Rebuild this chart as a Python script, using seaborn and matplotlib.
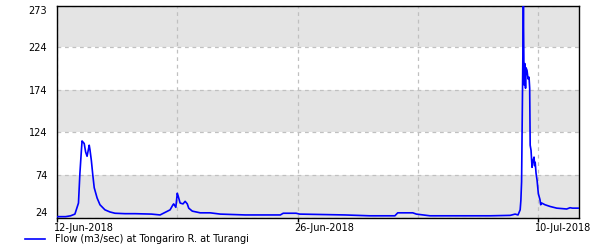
import matplotlib
matplotlib.use("Agg")
import matplotlib.pyplot as plt
import matplotlib.dates as mdates
import matplotlib.transforms as mtransforms
import numpy as np
import pandas as pd
import seaborn as sns

start = "2018-06-12 00:00"
hours = [0, 12, 19, 25, 30, 32, 34, 35, 36, 38, 40, 42, 45, 46, 48, 50, 52, 56, 60, 67,
         74, 81, 95, 109, 132, 144, 158, 162, 163, 166, 168, 169, 172, 176, 179, 182, 184,
         189, 200, 214, 228, 263, 312, 316, 334, 339, 402, 437, 472, 476, 497, 502, 521,
         605, 633, 640, 644, 647, 648, 649, 651.5, 652.5, 653.5, 654.5, 655.2, 656.6, 658.0,
         659.4, 660.3, 661, 662.2, 663.6, 665.0, 666.4, 667.2, 668, 669.2, 670.6, 672.4,
         674.7, 675.7, 677.1, 681.7, 688.7, 698.1, 712.0, 716.7, 720, 729.2]
flow = [25, 25, 26, 28, 41, 76, 102, 114, 113, 111, 101, 96, 109, 104, 91, 74, 59, 47, 39, 33,
        30.5, 29, 28.5, 28.5, 28, 27, 33, 39, 40, 36, 52.5, 50, 41, 40, 43, 40, 35,
        31.5, 29.5, 29.5, 28, 27, 27, 29, 29, 28, 27, 26, 26, 29.5, 29.5, 28, 26,
        26, 26.5, 28, 27, 33, 44, 66, 273, 180, 205, 176, 200, 197, 187,
        189, 176, 109, 103, 83, 91, 95, 85, 89, 76, 68, 52,
        45, 39, 41, 39, 37, 35, 34, 35.5, 35, 35]

y_ticks = [24, 74, 124, 174, 224, 273]
x_label_dates = ["2018-06-12", "2018-06-26", "2018-07-10"]
x_grid_dates = ["2018-06-19", "2018-07-03"]
legend_label = "Flow (m3/sec) at Tongariro R. at Turangi"

df = pd.DataFrame({"time": pd.Timestamp(start) + pd.to_timedelta(hours, unit="h"),
                   "flow": flow})

plt.rcParams['font.family'] = ['DejaVu Sans']
fig = plt.figure(figsize=(6, 2.5), dpi=100)
ax = fig.add_axes([57/600, 1-217.5/250, (579-57)/600, (217.5-5.5)/250])

# alternating bands
for i in range(len(y_ticks)-1):
    if i % 2 == 0:
        ax.axhspan(y_ticks[i], y_ticks[i+1] + (1 if i == len(y_ticks)-2 else 0),
                   color="#e4e4e4", zorder=0, lw=0)

sns.lineplot(data=df, x="time", y="flow", ax=ax, color="#0000ff", lw=1.2,
             label=legend_label, zorder=3)

ax.set_ylim(24, 273.3)
ax.set_xlim(pd.Timestamp(start), pd.Timestamp(start) + pd.Timedelta(hours=729.2))
ax.set_yticks(y_ticks)
ax.set_yticklabels([str(v) for v in y_ticks])
ax.tick_params(axis="y", length=0, pad=7, labelsize=7)
for lbl in ax.get_yticklabels():
    if lbl.get_text() == "273":
        lbl.set_va("top")
    elif lbl.get_text() == "24":
        lbl.set_va("bottom")

ax.set_xticks(pd.to_datetime(x_label_dates))
ax.xaxis.set_major_formatter(mdates.DateFormatter("%d-%b-%Y"))
ax.set_xticks(pd.to_datetime(x_grid_dates), minor=True)
ax.tick_params(axis="x", which="major", length=3, width=1, pad=1, labelsize=7)
ax.tick_params(axis="x", which="minor", length=0)
offset = mtransforms.ScaledTranslation(-3/100, 0, fig.dpi_scale_trans)
for lbl in ax.get_xticklabels():
    lbl.set_ha("left")
    lbl.set_transform(lbl.get_transform() + offset)

ax.grid(True, which="both", color="#c0c0c0", linestyle=(0, (3, 3)), lw=0.9, zorder=1)
ax.set_axisbelow(True)
ax.set_xlabel("")
ax.set_ylabel("")
for s in ax.spines.values():
    s.set_color("black")
    s.set_linewidth(1)

ax.legend(loc="center left", bbox_to_anchor=(25/600, 1-239/250), bbox_transform=fig.transFigure,
          frameon=False, fontsize=7, handlelength=2.1, handletextpad=1.0, borderaxespad=0,
          borderpad=0)

fig.savefig("out.png", dpi=100)
